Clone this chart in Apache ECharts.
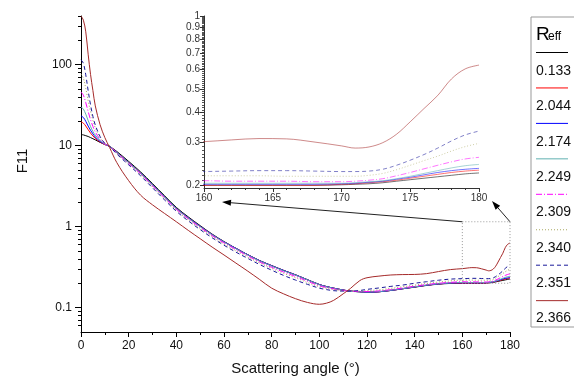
<!DOCTYPE html>
<html><head><meta charset="utf-8">
<script src="https://cdn.jsdelivr.net/npm/echarts@6/dist/echarts.min.js"></script>
<style>html,body{margin:0;padding:0;background:#fff}#c{width:574px;height:381px}</style>
</head><body><div id="c"></div>
<script>
// ---- data ----
const angles = [0,1,2,3,4,5,6,8,10,12, 15,20,25,30,35,40,45,50,55,60, 65,70,75,80,85,90,95,100,103,106, 110,113,117,120,125,130,135,140,145,150, 155,160,162,164,166,168,170,171,172,173, 174,175,176,177,178,179,180];
const reffNames = ['0.133','2.044','2.174','2.249','2.309','2.340','2.351','2.366'];
const f11_0133 = [13.7,13.6,13.3,13.0,12.6,12.2,11.8,11.0,10.4,9.8, 8.5,6.4,4.75,3.4,2.42,1.73,1.32,1.03,0.81,0.655, 0.54,0.45,0.38,0.33,0.288,0.254,0.221,0.193,0.182,0.174, 0.165,0.16,0.157,0.155,0.157,0.163,0.171,0.179,0.188,0.195, 0.199,0.2,0.2,0.2,0.2,0.2,0.201,0.202,0.203,0.205, 0.208,0.211,0.214,0.217,0.22,0.223,0.225];
const f11_2044 = [19.7,19.0,17.5,15.8,14.3,13.2,12.3,11.1,10.3,9.8, 8.3,6.2,4.6,3.3,2.35,1.68,1.29,1.01,0.8,0.65, 0.54,0.45,0.38,0.33,0.288,0.254,0.221,0.193,0.182,0.174, 0.165,0.16,0.157,0.155,0.157,0.163,0.171,0.18,0.189,0.196, 0.2,0.2,0.2,0.2,0.2,0.2,0.202,0.203,0.205,0.207, 0.21,0.214,0.218,0.222,0.226,0.229,0.231];
const f11_2174 = [23.3,22.3,20.0,17.5,15.5,14.0,12.8,11.3,10.4,9.8, 8.3,6.2,4.6,3.3,2.35,1.68,1.29,1.01,0.8,0.65, 0.54,0.45,0.38,0.33,0.288,0.254,0.221,0.193,0.182,0.174, 0.165,0.16,0.157,0.155,0.157,0.163,0.171,0.18,0.189,0.196, 0.201,0.202,0.202,0.202,0.202,0.202,0.203,0.204,0.206,0.208, 0.212,0.216,0.221,0.226,0.23,0.233,0.235];
const f11_2249 = [30,28.3,24.5,20.5,17.3,15.0,13.5,11.6,10.4,9.8, 8.28,6.18,4.58,3.28,2.34,1.67,1.28,1.0,0.795,0.645, 0.535,0.447,0.377,0.327,0.285,0.252,0.22,0.192,0.181,0.173, 0.164,0.159,0.157,0.156,0.158,0.164,0.172,0.181,0.19,0.197, 0.202,0.204,0.204,0.204,0.204,0.204,0.204,0.205,0.207,0.209, 0.213,0.218,0.224,0.23,0.236,0.241,0.244];
const f11_2309 = [46,42,34,26.5,21,17.3,14.8,12.0,10.5,9.8, 8.15,6.05,4.5,3.2,2.28,1.64,1.25,0.98,0.775,0.63, 0.522,0.435,0.366,0.315,0.275,0.243,0.212,0.186,0.177,0.17, 0.163,0.159,0.158,0.158,0.161,0.167,0.175,0.184,0.193,0.2, 0.205,0.209,0.208,0.208,0.208,0.207,0.207,0.208,0.21,0.213, 0.219,0.226,0.234,0.242,0.25,0.257,0.261];
const f11_2340 = [77,68,51,36,26.5,20.5,16.7,12.6,10.6,9.8, 8.05,5.95,4.4,3.12,2.22,1.6,1.22,0.95,0.755,0.61, 0.505,0.42,0.355,0.305,0.265,0.234,0.204,0.181,0.173,0.167, 0.162,0.16,0.16,0.162,0.166,0.173,0.181,0.19,0.199,0.207, 0.214,0.219,0.219,0.219,0.218,0.218,0.218,0.218,0.22,0.224, 0.232,0.242,0.253,0.264,0.277,0.289,0.298];
const f11_2351 = [115,104,75,48,32,23,18,13,10.7,9.8, 7.9,5.8,4.25,3.02,2.15,1.55,1.18,0.92,0.73,0.59, 0.485,0.405,0.34,0.29,0.25,0.219,0.194,0.174,0.167,0.162, 0.16,0.16,0.163,0.168,0.175,0.183,0.19,0.2,0.209,0.218, 0.225,0.228,0.229,0.23,0.23,0.229,0.228,0.228,0.229,0.233, 0.242,0.254,0.268,0.285,0.305,0.323,0.335];
const f11_2366 = [400,355,255,135,76,48,31,18.2,12.6,9.5, 6.2,3.7,2.45,1.86,1.46,1.15,0.9,0.71,0.56,0.447, 0.355,0.282,0.222,0.174,0.148,0.129,0.116,0.11,0.1135,0.123, 0.148,0.172,0.216,0.234,0.245,0.253,0.256,0.257,0.263,0.279, 0.295,0.303,0.308,0.312,0.311,0.302,0.291,0.285,0.288,0.3, 0.325,0.366,0.415,0.47,0.55,0.605,0.627];
const allValues = [f11_0133,f11_2044,f11_2174,f11_2249,f11_2309,f11_2340,f11_2351,f11_2366];
const mainYLabels = [0.1,1,10,100];
const mainYMinor = [0.06,0.07,0.08,0.09,0.2,0.3,0.4,0.5,0.6,0.7,0.8,0.9,2,3,4,5,6,7,8,9,20,30,40,50,60,70,80,90,200,300,400];
const insetYLabels = [0.2,0.3,0.4,0.5,0.6,0.7,0.8,0.9,1];
const insetYMinor = [];
for (let k = 21; k < 100; k++) { if (k % 10 !== 0) insetYMinor.push(k / 100); }

// ---- styles ----
const colors = ['#000000','#ff0000','#0000ff','#5fb0b0','#ff00ff','#a8a860','#1a1a9a','#a52a2a'];
const dashes = ['solid','solid','solid','solid',[6,2,1,2],[1,2],[4,3],'solid'];
const FONT = '"Liberation Sans", Arial, sans-serif';

const chart = echarts.init(document.getElementById('c'), null, {renderer:'canvas'});
const series = [];
allValues.forEach((vals, i) => {
  const data = angles.map((a, j) => [a, vals[j]]);
  series.push({name: reffNames[i], type:'line', xAxisIndex:0, yAxisIndex:0, data, showSymbol:false, symbol:'none', smooth:0.35,
    lineStyle:{color:colors[i], width:1, type:dashes[i]}, z: 2});
  series.push({name: reffNames[i] + ' inset', type:'line', xAxisIndex:1, yAxisIndex:2, data, showSymbol:false, symbol:'none', smooth:0.35,
    lineStyle:{color:colors[i], width:1, type:dashes[i], opacity:0.55}, z: 2});
});

const axisLine = {show:true, lineStyle:{color:'#000', width:1}};
const option = {
  animation:false,
  backgroundColor:'#fff',
  grid:[{left:81, top:16, width:429, height:319}, {left:204, top:16, width:275, height:172}],
  xAxis:[
    {gridIndex:0, type:'value', min:0, max:180, interval:20, axisLine,
     axisTick:{show:true, length:5, lineStyle:{color:'#000'}},
     minorTick:{show:true, splitNumber:2, length:3, lineStyle:{color:'#000'}},
     splitLine:{show:false},
     axisLabel:{color:'#111', fontSize:12, fontFamily:FONT, margin:8},
     name:'Scattering angle (°)', nameLocation:'middle', nameGap:29,
     nameTextStyle:{fontSize:15, color:'#111', fontFamily:FONT}},
    {gridIndex:1, type:'value', min:160, max:180, interval:5, axisLine:{show:true, lineStyle:{color:'#333', width:1}},
     axisTick:{show:true, length:4, lineStyle:{color:'#333'}},
     minorTick:{show:true, splitNumber:5, length:2, lineStyle:{color:'#333'}},
     splitLine:{show:false},
     axisLabel:{color:'#333', fontSize:10, fontFamily:FONT, margin:5, showMaxLabel:true}}
  ],
  yAxis:[
    {gridIndex:0, type:'log', logBase:10, min:0.05, max:400, position:'left', axisLine,
     axisTick:{show:true, length:6, customValues:mainYLabels, lineStyle:{color:'#000'}},
     axisLabel:{show:true, customValues:mainYLabels, color:'#111', fontSize:12, fontFamily:FONT, margin:9},
     splitLine:{show:false}},
    {gridIndex:0, type:'log', logBase:10, min:0.05, max:400, position:'left', offset:0, axisLine:{show:false},
     axisTick:{show:true, length:3, customValues:mainYMinor, lineStyle:{color:'#000'}},
     axisLabel:{show:false}, splitLine:{show:false}},
    {gridIndex:1, type:'log', logBase:10, min:0.195, max:1, position:'left', axisLine:{show:true, lineStyle:{color:'#333', width:1}},
     axisTick:{show:true, length:4, customValues:insetYLabels, lineStyle:{color:'#333'}},
     axisLabel:{show:true, customValues:insetYLabels, color:'#333', fontSize:10, fontFamily:FONT, margin:4},
     splitLine:{show:false}},
    {gridIndex:1, type:'log', logBase:10, min:0.195, max:1, position:'left', offset:0, axisLine:{show:false},
     axisTick:{show:true, length:2, customValues:insetYMinor, lineStyle:{color:'#555'}},
     axisLabel:{show:false}, splitLine:{show:false}}
  ],
  series
};
chart.setOption(option);

// ---- annotations: zoom box, arrows, legend, y title ----
const tl = chart.convertToPixel({xAxisIndex:0, yAxisIndex:0}, [160, 1.15]);
const br = chart.convertToPixel({xAxisIndex:0, yAxisIndex:0}, [180, 0.2]);
const inOrigin = chart.convertToPixel({xAxisIndex:1, yAxisIndex:2}, [160, 0.195]);
const inEnd = chart.convertToPixel({xAxisIndex:1, yAxisIndex:2}, [180, 0.195]);
function arrow(from, to) {
  const dx = to[0]-from[0], dy = to[1]-from[1];
  const L = Math.hypot(dx, dy), ux = dx/L, uy = dy/L;
  const hl = 9, hw = 3;
  const bx = to[0]-ux*hl, by = to[1]-uy*hl;
  return [
    {type:'line', shape:{x1:from[0], y1:from[1], x2:bx, y2:by}, style:{stroke:'#222', lineWidth:1}, z:10},
    {type:'polygon', shape:{points:[[to[0],to[1]],[bx-uy*hw, by+ux*hw],[bx+uy*hw, by-ux*hw]]}, style:{fill:'#000'}, z:10}
  ];
}
const g = [];
g.push({type:'rect', shape:{x:tl[0], y:tl[1], width:br[0]-tl[0], height:br[1]-tl[1]}, style:{fill:null, stroke:'#999', lineWidth:1, lineDash:[1,2]}, z:10});
arrow([tl[0], tl[1]], [inOrigin[0]+18, inOrigin[1]+14]).forEach(e => g.push(e));
arrow([br[0], tl[1]], [inEnd[0]+13, inEnd[1]+13]).forEach(e => g.push(e));
// legend box
const lx = 531, ly = 17, lh = 310;
g.push({type:'rect', shape:{x:lx, y:ly, width:60, height:lh}, style:{fill:'#fff', stroke:'#999', lineWidth:1}, z:20});
g.push({type:'text', x:536, y:44, style:{text:'R', font:'19px ' + FONT, fill:'#000', textAlign:'left', textVerticalAlign:'bottom'}, z:21});
g.push({type:'text', x:548, y:42.5, style:{text:'eff', font:'12px ' + FONT, fill:'#000', textAlign:'left', textVerticalAlign:'bottom'}, z:21});
reffNames.forEach((nm, i) => {
  const yLine = 52.5 + 35.45*i;
  const yText = 71 + 35.35*i;
  const d = dashes[i];
  g.push({type:'line', shape:{x1:536, y1:yLine, x2:568, y2:yLine}, style:{stroke:colors[i], lineWidth:1, lineDash: Array.isArray(d) ? d : null}, z:21});
  g.push({type:'text', x:536, y:yText, style:{text:nm, font:'14px ' + FONT, fill:'#111', textAlign:'left', textVerticalAlign:'middle'}, z:21});
});
g.push({type:'text', x:22.5, y:161, rotation:Math.PI/2, style:{text:'F11', font:'15px ' + FONT, fill:'#111', textAlign:'center', textVerticalAlign:'middle'}, z:21});
chart.setOption({graphic:{elements:g}});
</script>
</body></html>
